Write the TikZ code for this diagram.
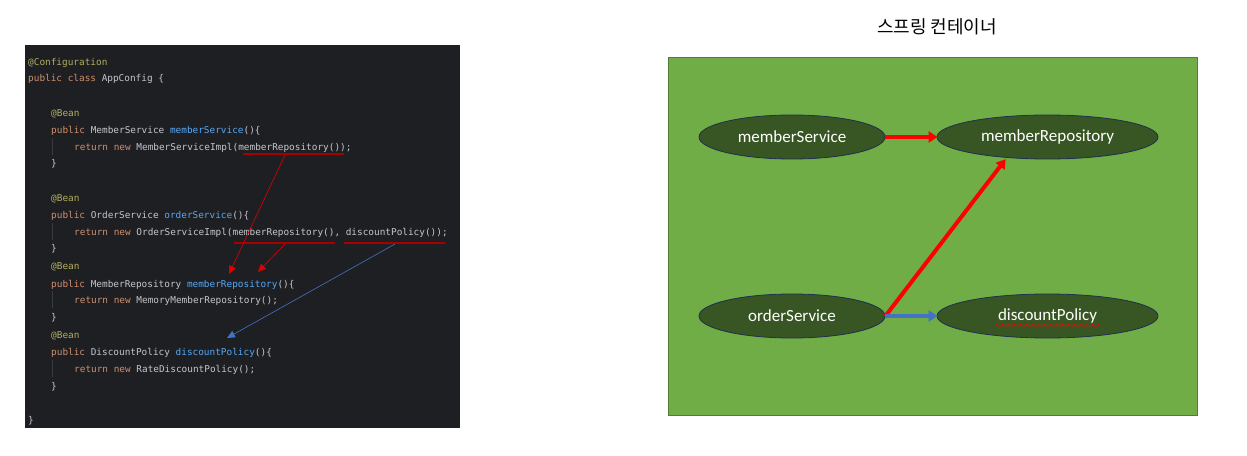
\documentclass[tikz,border=0pt]{standalone}
\usepackage{fontspec}
\newfontfamily\codefont{DejaVu Sans Mono}
\newfontfamily\cjkfont{Noto Sans CJK KR}
\newfontfamily\calfont{Carlito}
\usetikzlibrary{arrows.meta,decorations.pathmorphing,shapes.geometric}
\definecolor{codebg}{HTML}{1E1F22}
\definecolor{kwc}{HTML}{CF8E6D}
\definecolor{anc}{HTML}{B3AE60}
\definecolor{fnc}{HTML}{56A8F5}
\definecolor{txc}{HTML}{C4C6CC}
\definecolor{guide}{HTML}{393B40}
\definecolor{ulred}{HTML}{A80000}
\definecolor{arrred}{HTML}{E00000}
\definecolor{arrblue}{HTML}{4472C4}
\definecolor{boxgreen}{HTML}{70AD47}
\definecolor{boxedge}{HTML}{507E32}
\definecolor{ellfill}{HTML}{375623}
\definecolor{elledge}{HTML}{1F3050}
\newcommand{\kwx}[1]{\textcolor{kwc}{#1}}
\newcommand{\anx}[1]{\textcolor{anc}{#1}}
\newcommand{\fnx}[1]{\textcolor{fnc}{#1}}
\begin{document}
\begin{tikzpicture}[x=1pt,y=-1pt,
  codeline/.style={anchor=base west,inner sep=0pt,font=\codefont\fontsize{9.4}{10}\selectfont,text=txc},
  bean/.style={ellipse,draw=elledge,line width=0.8pt,fill=ellfill,text=white,font=\calfont\fontsize{17}{19}\selectfont,inner sep=0pt},
  thinarrow/.style={line width=0.6pt,-{Triangle[length=8pt,width=7pt]}},
  thickarrow/.style={line width=4pt,-{Triangle[length=9pt,width=11pt]},shorten >=-1pt},
  underl/.style={draw=ulred,line width=1.2pt}
]
\useasboundingbox (0,0) rectangle (1247,455);
\fill[white] (0,0) rectangle (1247,455);
% code panel
\fill[codebg] (25,45) rectangle (460,428);
\foreach \ya/\yb in {138/155, 223/240, 291/308, 360/377}
  \draw[guide,line width=1pt] (52,\ya) -- (52,\yb);
\node[codeline] (l1) at (28,65) {\anx{@Configuration}};
\node[codeline] (l2) at (28,81) {\kwx{public class} AppConfig \{};
\node[codeline] (l4) at (51,116) {\anx{@Bean}};
\node[codeline] (l5) at (51,133) {\kwx{public} MemberService \fnx{memberService}()\{};
\node[codeline] (l6) at (74,150) {\kwx{return new} MemberServiceImpl(memberRepository());};
\node[codeline] (l7) at (51,166) {\}};
\node[codeline] (l9) at (51,201) {\anx{@Bean}};
\node[codeline] (l10) at (51,218) {\kwx{public} OrderService \fnx{orderService}()\{};
\node[codeline] (l11) at (74,235) {\kwx{return new} OrderServiceImpl(memberRepository(), discountPolicy());};
\node[codeline] (l12) at (51,251) {\}};
\node[codeline] (l13) at (51,269) {\anx{@Bean}};
\node[codeline] (l14) at (51,287) {\kwx{public} MemberRepository \fnx{memberRepository}()\{};
\node[codeline] (l15) at (74,303) {\kwx{return new} MemoryMemberRepository();};
\node[codeline] (l16) at (51,320) {\}};
\node[codeline] (l17) at (51,338) {\anx{@Bean}};
\node[codeline] (l18) at (51,355) {\kwx{public} DiscountPolicy \fnx{discountPolicy}()\{};
\node[codeline] (l19) at (74,372) {\kwx{return new} RateDiscountPolicy();};
\node[codeline] (l20) at (51,389) {\}};
\node[codeline] (l22) at (28,423) {\}};
% underlines
\coordinate (u1a) at (243,154); \coordinate (u1b) at (344,154);
\coordinate (u2a) at (234,243); \coordinate (u2b) at (335,243);
\coordinate (u3a) at (344,243); \coordinate (u3b) at (445,243);
\draw[underl] (u1a) -- (u1b);
\draw[underl] (u2a) -- (u2b);
\draw[underl] (u3a) -- (u3b);
\coordinate (s1) at (285,155); \coordinate (t1) at (229,274);
\coordinate (s2) at (285,244); \coordinate (t2) at (258,272);
\coordinate (s3) at (395,244); \coordinate (t3) at (227,338);
\draw[thinarrow,arrred] (s1) -- (t1);
\draw[thinarrow,arrred] (s2) -- (t2);
\draw[thinarrow,arrblue] (s3) -- (t3);
% container
\node[font=\cjkfont\fontsize{18}{21}\selectfont,inner sep=0pt] (title) at (937,27) {스프링 컨테이너};
\draw[boxedge,fill=boxgreen,line width=0.8pt] (668,57) rectangle (1197,415);
\node[bean,minimum width=186pt,minimum height=44pt] (ms) at (792,137) {memberService};
\node[bean,minimum width=221pt,minimum height=44pt] (mr) at (1047.5,137) {memberRepository};
\node[bean,minimum width=186pt,minimum height=44pt] (os) at (792,316) {orderService};
\node[bean,minimum width=221pt,minimum height=44pt] (dp) at (1047.5,316) {discountPolicy};
\draw[decorate,decoration={snake,amplitude=0.9pt,segment length=3pt},red,line width=0.6pt]
  ([xshift=-52pt,yshift=13pt]dp.south) -- ([xshift=52pt,yshift=13pt]dp.south);
\coordinate (mrlow) at (1005,160);
\draw[thickarrow,red] (ms.east) -- (mr.west);
\draw[thickarrow,red] (os.east) -- (mrlow);
\draw[thickarrow,arrblue] (os.east) -- (dp.west);
\end{tikzpicture}
\end{document}
